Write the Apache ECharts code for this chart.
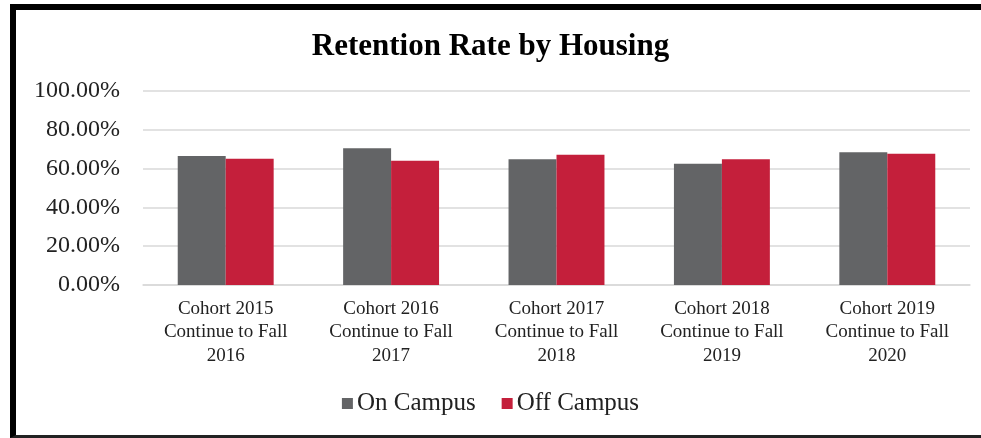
<!DOCTYPE html>
<html>
<head>
<meta charset="utf-8">
<script src="https://cdn.jsdelivr.net/npm/echarts@6/dist/echarts.min.js"></script>
<style>
  html, body { margin: 0; padding: 0; background: #fff; }
  #chart { width: 981px; height: 438px; }
  /* black frame around the chart, cut off on the right like the picture */
  .frame {
    position: absolute;
    left: 10px;
    top: 4px;
    width: 990px;
    height: 425px;
    border-left: 6px solid #000;
    border-top: 6px solid #000;
    border-bottom: 3px solid #222;
    pointer-events: none;
  }
</style>
</head>
<body>
<div id="chart"></div>
<div class="frame"></div>
<script>
// categories and values (percent)
const categories = [
  'Cohort 2015\nContinue to Fall\n2016',
  'Cohort 2016\nContinue to Fall\n2017',
  'Cohort 2017\nContinue to Fall\n2018',
  'Cohort 2018\nContinue to Fall\n2019',
  'Cohort 2019\nContinue to Fall\n2020'
]
const onCampus = [66.5, 70.5, 64.8, 62.5, 68.4]
const offCampus = [65.1, 64.1, 67.2, 64.8, 67.7]
const seriesNames = ['On Campus', 'Off Campus']

const serif = '"Liberation Serif", "DejaVu Serif", serif'

const chart = echarts.init(document.getElementById('chart'))

const option = {
  backgroundColor: '#fff',
  animation: false,
  title: {
    text: 'Retention Rate by Housing',
    left: 'center',
    top: 26,
    textStyle: {
      fontFamily: serif,
      fontWeight: 'bold',
      fontSize: 31,
      color: '#000'
    }
  },
  legend: {
    data: seriesNames,
    bottom: 17,
    left: 'center',
    icon: 'rect',
    itemWidth: 11,
    itemHeight: 11,
    itemGap: 26,
    textStyle: {
      fontFamily: serif,
      fontSize: 25,
      color: '#222',
      padding: [0, 0, 0, -1]
    }
  },
  grid: {
    left: 143,
    right: 11,
    top: 91,
    bottom: 153
  },
  xAxis: {
    type: 'category',
    data: categories,
    axisTick: { show: false },
    axisLine: { lineStyle: { color: '#d9d9d9', width: 1.5 } },
    axisLabel: {
      interval: 0,
      margin: 12,
      fontFamily: serif,
      fontSize: 19,
      lineHeight: 23.5,
      color: '#222'
    }
  },
  yAxis: {
    type: 'value',
    min: 0,
    max: 100,
    interval: 20,
    axisLine: { show: false },
    axisTick: { show: false },
    splitLine: { lineStyle: { color: '#d9d9d9', width: 1.5 } },
    axisLabel: {
      margin: 23,
      fontFamily: serif,
      fontSize: 24,
      color: '#222',
      formatter: v => v.toFixed(2) + '%'
    }
  },
  series: [
    {
      name: seriesNames[0],
      type: 'bar',
      data: onCampus,
      barGap: '0%',
      barCategoryGap: '42%',
      itemStyle: { color: '#636466' }
    },
    {
      name: seriesNames[1],
      type: 'bar',
      data: offCampus,
      itemStyle: { color: '#c41f3b' }
    }
  ]
}

chart.setOption(option)
</script>
</body>
</html>
